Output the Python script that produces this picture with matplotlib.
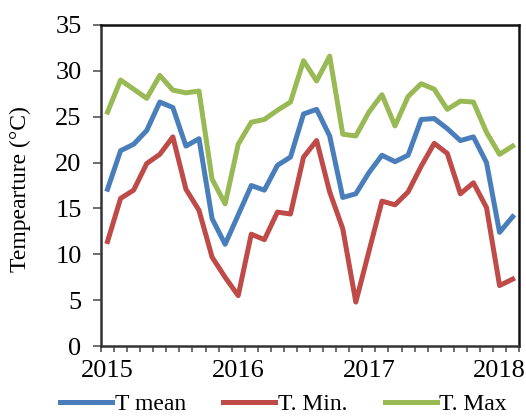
import matplotlib
matplotlib.use("Agg")
import matplotlib.pyplot as plt
import numpy as np

# Monthly air temperature (°C), 32 consecutive observations
t_mean = [17.1, 21.3, 22.0, 23.5, 26.6, 26.0, 21.8, 22.6, 13.9, 11.1, 14.3,
          17.5, 17.0, 19.7, 20.6, 25.3, 25.8, 22.9, 16.2, 16.6, 18.9,
          20.8, 20.1, 20.8, 24.7, 24.8, 23.7, 22.4, 22.8, 20.0, 12.4, 14.1]
t_min = [11.4, 16.1, 17.0, 19.9, 20.9, 22.8, 17.1, 14.8, 9.7, 7.5, 5.5,
         12.2, 11.6, 14.6, 14.4, 20.6, 22.4, 16.8, 12.8, 4.8, 10.3,
         15.8, 15.4, 16.8, 19.6, 22.1, 21.0, 16.6, 17.8, 15.1, 6.6, 7.3]
t_max = [25.5, 29.0, 28.0, 27.0, 29.5, 27.9, 27.6, 27.8, 18.2, 15.5, 22.0,
         24.4, 24.7, 25.7, 26.6, 31.1, 28.9, 31.6, 23.1, 22.9, 25.5,
         27.4, 24.0, 27.2, 28.6, 28.0, 25.8, 26.7, 26.6, 23.3, 20.9, 21.8]
year_labels = ["2015", "2016", "2017", "2018"]
label_every = 10

plt.rcParams["font.family"] = ["Liberation Serif", "DejaVu Serif"]

fig = plt.figure(figsize=(5.26, 4.16), dpi=100)
ax = fig.add_axes([0.192, 0.168, 0.795, 0.772])

x = np.arange(len(t_mean))
ax.plot(x, t_mean, color="#4A7EBB", lw=3.6, label="T mean", solid_joinstyle="round")
ax.plot(x, t_min, color="#BE4B48", lw=3.6, label="T. Min.", solid_joinstyle="round")
ax.plot(x, t_max, color="#98B954", lw=3.6, label="T. Max", solid_joinstyle="round")

ax.set_xlim(-0.5, len(x) - 0.5)
ax.set_ylim(0, 35)
ax.set_yticks(np.arange(0, 36, 5))

ax.set_xticks(np.arange(len(year_labels)) * label_every)
ax.set_xticklabels(year_labels)
ax.set_xticks(np.arange(len(x) + 1) - 0.5, minor=True)
ax.tick_params(axis="x", which="major", length=0, pad=10, labelsize=19)
ax.tick_params(axis="x", which="minor", length=4, width=1.2, color="#555555",
               direction="out")
ax.tick_params(axis="y", which="major", length=6, width=1.2, color="#555555",
               pad=8, labelsize=19, direction="out")

for side, sp in ax.spines.items():
    sp.set_linewidth(1.8)
    sp.set_color("#111111" if side in ("top", "right") else "#333333")

ax.set_ylabel("Tempearture (°C)", fontsize=17, labelpad=6)
ax.yaxis.set_label_coords(-0.168, 0.49)

fig.legend(loc="center", bbox_to_anchor=(0.539, 0.028), ncol=3, frameon=False,
           fontsize=17, handlelength=2.2, handletextpad=0.1, columnspacing=1.6)

fig.savefig("out.png", dpi=100)
